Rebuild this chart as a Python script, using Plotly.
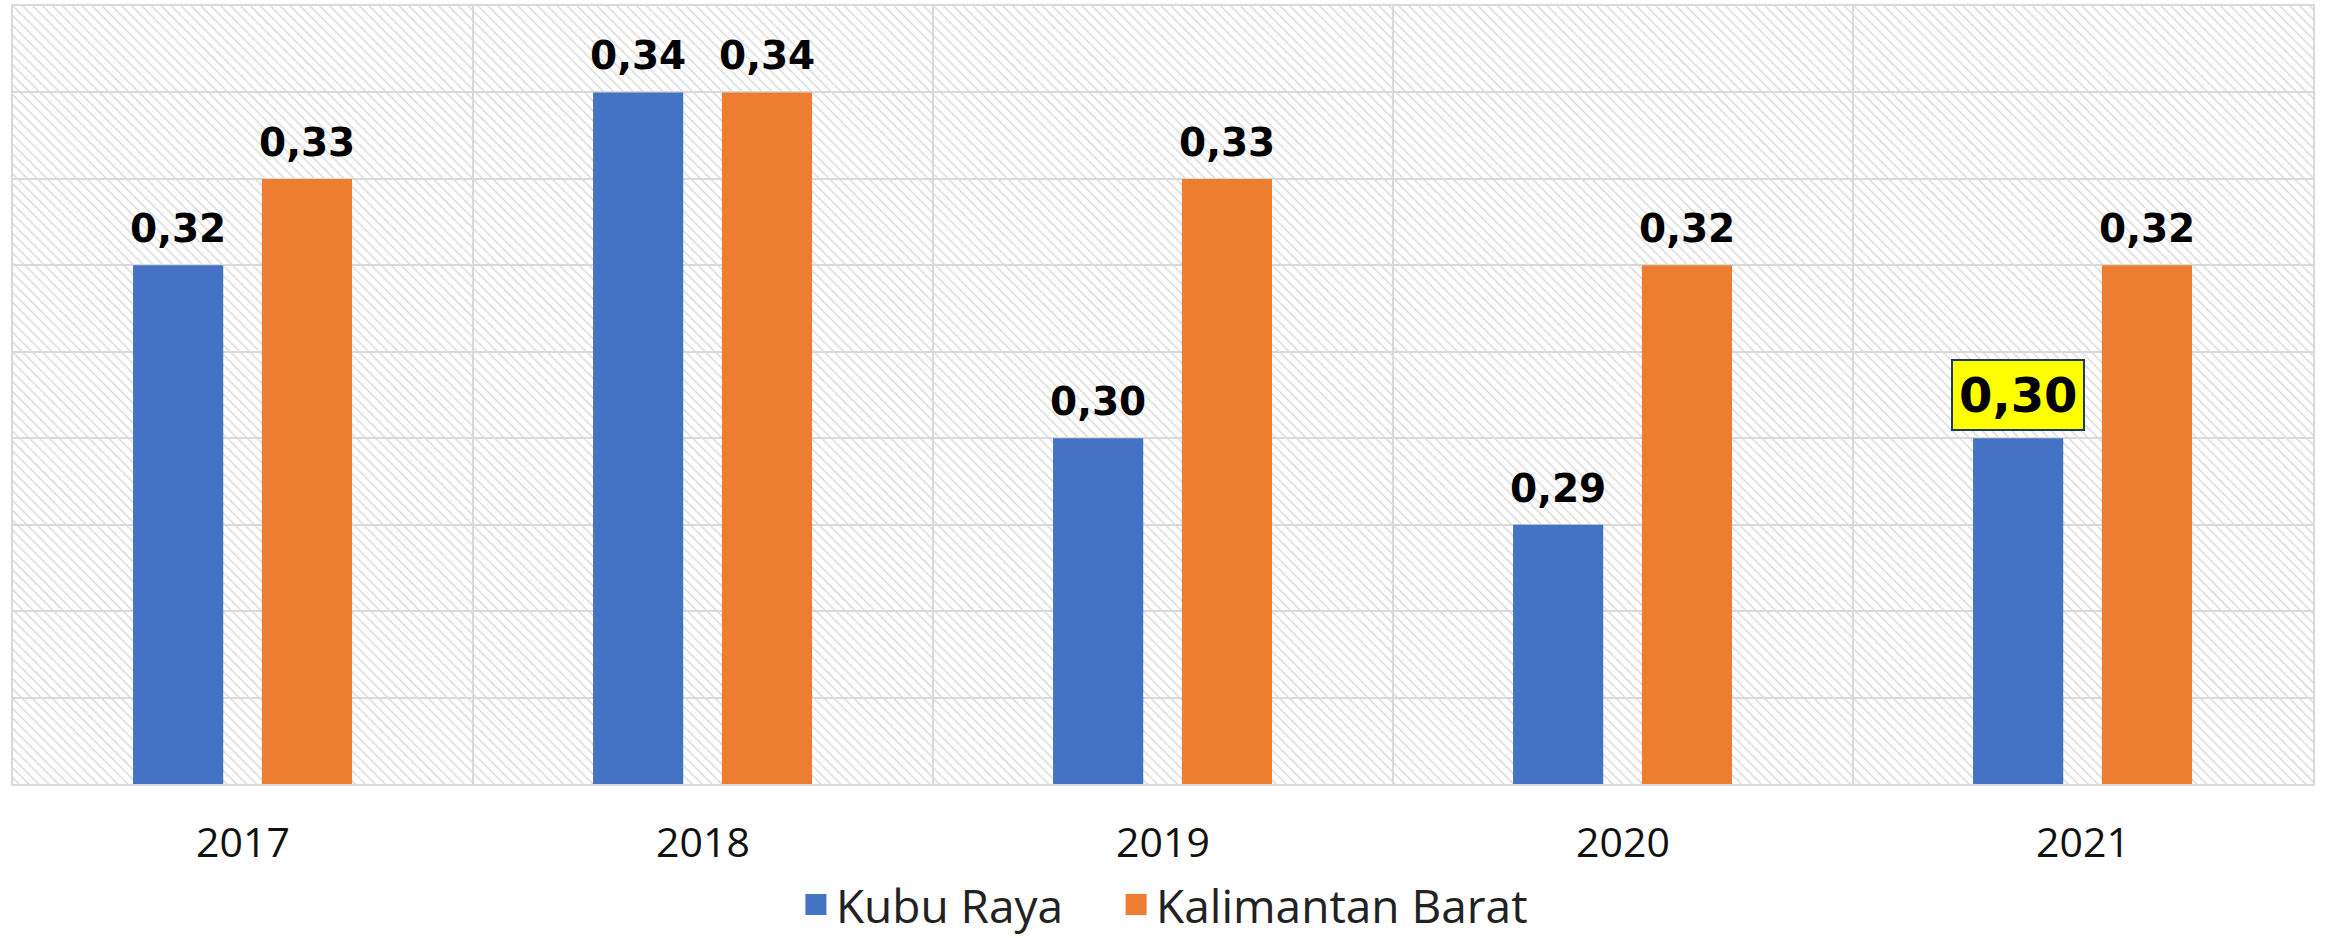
import plotly.graph_objects as go

# ---- data ----
years = ["2017", "2018", "2019", "2020", "2021"]
kubu_raya = [0.32, 0.34, 0.30, 0.29, 0.30]
kalbar = [0.33, 0.34, 0.33, 0.32, 0.32]
series_names = ["Kubu Raya", "Kalimantan Barat"]
highlight = ("Kubu Raya", "2021")

# ---- style ----
colors = {"Kubu Raya": "#4472C4", "Kalimantan Barat": "#ED7D31"}
legend_ids = {"Kubu Raya": "legend", "Kalimantan Barat": "legend2"}
y_range = [0.26, 0.35]
x_range = [-0.5, len(years) - 0.5]
bar_w = 0.196
centers = {"Kubu Raya": -0.141, "Kalimantan Barat": 0.139}
grid_c = "#d9d9d9"

fig = go.Figure()

# hatched plot background
fig.add_trace(go.Bar(
    x=[(x_range[0] + x_range[1]) / 2], y=[y_range[1] - y_range[0]], base=[y_range[0]],
    width=[x_range[1] - x_range[0]],
    marker=dict(color="rgba(0,0,0,0)", line=dict(width=0),
                pattern=dict(shape="\\", fgcolor="#dadada", bgcolor="rgba(0,0,0,0)",
                             size=7, solidity=0.22, fillmode="replace")),
    showlegend=False, hoverinfo="skip"))

xs = list(range(len(years)))
for name, vals in zip(series_names, [kubu_raya, kalbar]):
    fig.add_trace(go.Bar(
        name=name, x=xs, y=vals, width=bar_w, offset=centers[name] - bar_w / 2,
        marker=dict(color=colors[name], line=dict(width=0)),
        legendgroup=name, showlegend=False,
        hovertemplate="%{y}<extra>" + name + "</extra>"))
    # legend swatch (square, like the reference legend key)
    fig.add_trace(go.Scatter(
        name=name, x=[None], y=[None], mode="markers", legendgroup=name,
        legend=legend_ids[name],
        marker=dict(symbol="square", size=16, color=colors[name],
                    line=dict(width=5, color=colors[name])),
        hoverinfo="skip"))

annotations = []
for name, vals in zip(series_names, [kubu_raya, kalbar]):
    for i, v in enumerate(vals):
        txt = f"{v:.2f}".replace(".", ",")
        if (name, years[i]) == highlight:
            annotations.append(dict(
                x=i + centers[name], y=v, xref="x", yref="y", text=txt, showarrow=False,
                yanchor="bottom", yshift=7,
                font=dict(family="DejaVu Sans", size=48, color="black", weight="bold"),
                bgcolor="#FFFF00", bordercolor="#1F3864", borderwidth=2, borderpad=6))
        else:
            annotations.append(dict(
                x=i + centers[name], y=v, xref="x", yref="y", text=txt, showarrow=False,
                yanchor="bottom", yshift=12,
                font=dict(family="DejaVu Sans", size=39, color="black", weight="bold")))

leg_font = dict(family="Open Sans", size=46, color="#222222")
leg_y = -0.202
fig.update_layout(
    width=2325, height=938,
    margin=dict(l=13, r=12, t=6, b=154, autoexpand=False),
    paper_bgcolor="white", plot_bgcolor="white",
    barmode="overlay",
    showlegend=True,
    legend=dict(orientation="h", x=0.3404, xanchor="left", y=leg_y, yanchor="bottom",
                font=leg_font, itemclick=False, itemdoubleclick=False,
                bgcolor="rgba(0,0,0,0)"),
    legend2=dict(orientation="h", x=0.4796, xanchor="left", y=leg_y, yanchor="bottom",
                 font=leg_font, itemclick=False, itemdoubleclick=False,
                 bgcolor="rgba(0,0,0,0)"),
    annotations=annotations,
    xaxis=dict(range=x_range, tickvals=xs, ticktext=years, showgrid=False,
               tickfont=dict(family="Open Sans", size=41, color="#111111"),
               ticks="", ticklabelstandoff=22,
               showline=True, mirror=True, linecolor=grid_c, linewidth=2,
               minor=dict(tick0=0.5, dtick=1, showgrid=True, gridcolor=grid_c, gridwidth=1.5),
               zeroline=False, fixedrange=True),
    yaxis=dict(range=y_range, dtick=0.01, tick0=0.26, showticklabels=False, ticks="",
               showgrid=True, gridcolor=grid_c, gridwidth=1.5,
               showline=True, mirror=True, linecolor=grid_c, linewidth=2,
               zeroline=False, fixedrange=True),
)

fig.write_html("out.html", config={"displayModeBar": False},
               post_script="document.body.style.margin='0';")
